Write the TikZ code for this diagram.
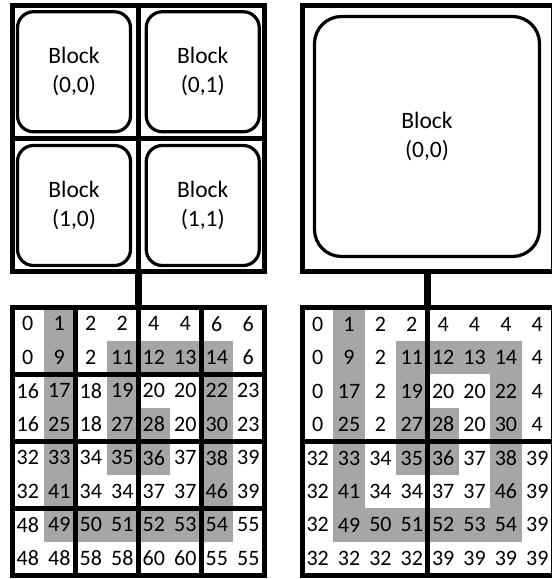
\documentclass[tikz,border=0pt]{standalone}
\usepackage{fontspec}
\setmainfont{Carlito}
\definecolor{cellgray}{RGB}{166,166,166}
\begin{document}
\begin{tikzpicture}[x=1pt,y=-1pt,
  frame/.style={draw,line width=5pt,rectangle,inner sep=0pt,outer sep=0pt},
  divider/.style={line width=5pt},
  blockbox/.style={draw,line width=3.2pt,rectangle,rounded corners=16pt,align=center,
    inner sep=0pt,font=\fontsize{23.5}{29}\selectfont},
  cell/.style={inner sep=0pt,font=\fontsize{22}{26}\selectfont},
  shade/.style={fill=cellgray},
  stub/.style={line width=7pt}]
\useasboundingbox (0,0) rectangle (552,579);

% ---------- top left: 2x2 thread blocks ----------
\node[frame,minimum width=252pt,minimum height=265.5pt] (tlframe) at (138,138.25) {};
\draw[divider] (tlframe.north) -- (tlframe.south);
\draw[divider] (tlframe.west) -- (tlframe.east);
\node[blockbox,minimum width=113pt,minimum height=120pt] (b00) at (74,71.75) {Block\\(0,0)};
\node[blockbox,minimum width=113pt,minimum height=120pt] (b01) at (202.75,71.75) {Block\\(0,1)};
\node[blockbox,minimum width=113pt,minimum height=120pt] (b10) at (74,205.5) {Block\\(1,0)};
\node[blockbox,minimum width=113pt,minimum height=120pt] (b11) at (202.75,205.5) {Block\\(1,1)};

% ---------- top right: one large block ----------
\node[frame,minimum width=251pt,minimum height=265.5pt] (trframe) at (427.5,138.25) {};
\node[blockbox,rounded corners=27pt,minimum width=225pt,minimum height=240pt] (bbig) at (427,136.5) {Block\\(0,0)};

% ---------- shaded cells (same pattern in both grids) ----------
\foreach \r/\c in {0/1,1/1,1/3,1/4,1/5,1/6,2/1,2/3,2/6,3/1,3/3,3/4,3/6,
                   4/1,4/3,4/4,4/6,5/1,5/6,6/1,6/2,6/3,6/4,6/5,6/6} {
  \fill[shade] ({12+31.5*\c},{307+33.5*\r}) rectangle ++(31.5,33.5);
  \fill[shade] ({302+31.375*\c},{307.5+33.44*\r}) rectangle ++(31.375,33.44);
}

% ---------- bottom left: labels with 2x2 tiles ----------
\foreach \row [count=\r from 0] in {
  {0,1,2,2,4,4,6,6},
  {0,9,2,11,12,13,14,6},
  {16,17,18,19,20,20,22,23},
  {16,25,18,27,28,20,30,23},
  {32,33,34,35,36,37,38,39},
  {32,41,34,34,37,37,46,39},
  {48,49,50,51,52,53,54,55},
  {48,48,58,58,60,60,55,55}} {
  \foreach \v [count=\c from 0] in \row {
    \node[cell] (bl-\r-\c) at ({12+31.5*(\c+0.5)},{307+33.5*(\r+0.5)}) {\v};
  }
}
\node[frame,minimum width=252pt,minimum height=268pt] (blframe) at (138,441) {};
\foreach \k in {2,4,6} {
  \draw[divider] ({12+31.5*\k},307) -- ({12+31.5*\k},575);
  \draw[divider] (12,{307+33.5*\k}) -- (264,{307+33.5*\k});
}

% ---------- bottom right: labels with 4x4 tiles ----------
\foreach \row [count=\r from 0] in {
  {0,1,2,2,4,4,4,4},
  {0,9,2,11,12,13,14,4},
  {0,17,2,19,20,20,22,4},
  {0,25,2,27,28,20,30,4},
  {32,33,34,35,36,37,38,39},
  {32,41,34,34,37,37,46,39},
  {32,49,50,51,52,53,54,39},
  {32,32,32,32,39,39,39,39}} {
  \foreach \v [count=\c from 0] in \row {
    \node[cell] (br-\r-\c) at ({302+31.375*(\c+0.5)},{307.5+33.44*(\r+0.5)}) {\v};
  }
}
\node[frame,minimum width=251pt,minimum height=267.5pt] (brframe) at (427.5,441.25) {};
\draw[divider] (brframe.north) -- (brframe.south);
\draw[divider] (brframe.west) -- (brframe.east);

% ---------- links from blocks to label grids ----------
\draw[stub] (tlframe.south) -- (blframe.north);
\draw[stub] (trframe.south) -- (brframe.north);
\end{tikzpicture}
\end{document}
